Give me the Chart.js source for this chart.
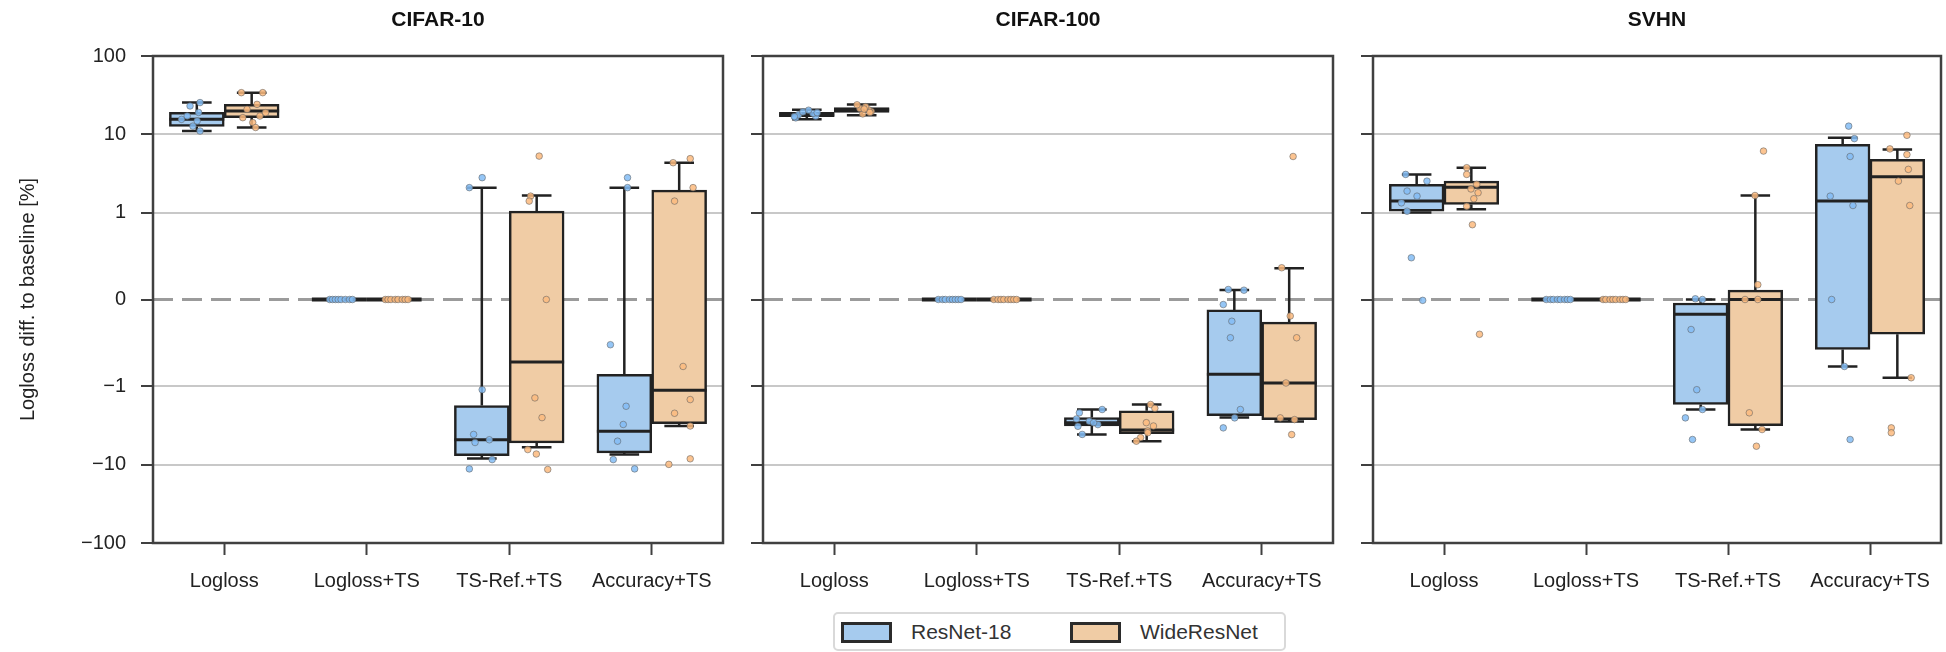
<!DOCTYPE html>
<html>
<head>
<meta charset="utf-8">
<script src="https://cdn.jsdelivr.net/npm/chart.js@4.4.1/dist/chart.umd.min.js"></script>
<style>
    html, body { margin: 0; padding: 0; background: #fff; }
    #page { position: relative; width: 1946px; height: 652px; overflow: hidden; font-family: 'Liberation Sans', Arial, sans-serif; }
    #page canvas { position: absolute; top: 0; }
    .legend-box { position: absolute; left: 833px; top: 612px; width: 453px; height: 39px; box-sizing: border-box; border: 2px solid #d9d9d9; border-radius: 5px; }
    .legend-patch { position: absolute; top: 622px; width: 51px; height: 21px; box-sizing: border-box; border: 3px solid #2b2b2b; }
    .legend-text { position: absolute; top: 619px; font-size: 21px; line-height: 25px; color: #333; }
</style>
</head>
<body>
<div id="page">
    <canvas id="panel0" width="733" height="600" style="left:0px"></canvas>
    <canvas id="panel1" width="605" height="600" style="left:738px"></canvas>
    <canvas id="panel2" width="598" height="600" style="left:1348px"></canvas>
    <div class="legend-box"></div>
</div>
<script>
// --- data ---
const CATEGORIES = ['Logloss', 'Logloss+TS', 'TS-Ref.+TS', 'Accuracy+TS'];
const DATASET_NAMES = ['CIFAR-10', 'CIFAR-100', 'SVHN'];
const MODELS = ['ResNet-18', 'WideResNet'];
const Y_TICKS = [-100, -10, -1, 0, 1, 10, 100];

// box rows per category: [whisker low, Q1, median, Q3, whisker high]
const C10_RN_BOX = [
    [11.0, 12.6, 15.5, 19.1, 25.4],
    [0, 0, 0, 0, 0],
    [-8.3, -7.65, -4.8, -1.75, 2.08],
    [-7.4, -7.06, -3.74, -0.86, 2.08]
];
const C10_WRN_BOX = [
    [12.2, 16.3, 19.8, 24.1, 34.0],
    [0, 0, 0, 0, 0],
    [-6.0, -5.26, -0.72, 1.04, 1.65],
    [-3.2, -2.98, -1.12, 1.93, 4.33]
];
const C100_RN_BOX = [
    [15.5, 16.8, 17.8, 19.0, 20.5],
    [0, 0, 0, 0, 0],
    [-4.1, -3.2, -2.9, -2.5, -1.97],
    [-2.5, -2.36, -0.86, -0.12, 0.11]
];
const C100_WRN_BOX = [
    [17.5, 19.0, 20.5, 22.0, 24.0],
    [0, 0, 0, 0, 0],
    [-5.0, -4.0, -3.6, -2.05, -1.7],
    [-2.8, -2.65, -0.96, -0.26, 0.36]
];
const SV_RN_BOX = [
    [1.0, 1.04, 1.4, 2.29, 3.07],
    [0, 0, 0, 0, 0],
    [-1.97, -1.7, -0.17, -0.04, 0.0],
    [-0.77, -0.575, 1.4, 7.43, 9.0]
];
const SV_WRN_BOX = [
    [1.1, 1.27, 2.1, 2.52, 3.74],
    [0, 0, 0, 0, 0],
    [-3.55, -3.16, 0.0, 0.107, 1.65],
    [-0.9, -0.4, 2.87, 4.78, 6.4]
];

// individual runs per category
const C10_RN_PTS = [
    [23.0, 25.4, 17.1, 14.8, 11.0, 15.5, 19.0, 12.7],
    [0, 0, 0, 0, 0, 0, 0, 0],
    [2.79, 2.08, -1.1, -4.1, -4.8, -5.2, -8.6, -11.3],
    [2.79, 2.08, -0.52, -1.79, -3.06, -5.0, -8.6, -11.3]
];
const C10_WRN_PTS = [
    [34.0, 34.0, 20.8, 24.1, 14.1, 18.9, 16.3, 17.1, 12.2],
    [0, 0, 0, 0, 0, 0, 0, 0],
    [5.26, 1.62, 1.4, 0, -1.4, -2.5, -6.4, -7.3, -11.5],
    [4.33, 4.88, 2.08, 1.4, -0.77, -1.47, -2.2, -3.2, -9.9, -8.4]
];
const C100_RN_PTS = [
    [16.2, 17.0, 17.8, 18.5, 19.3, 20.3, 16.8, 18.9],
    [0, 0, 0, 0, 0, 0, 0, 0],
    [-2.17, -1.97, -3.23, -2.78, -3.07, -4.1, -2.6, -2.9],
    [0.115, 0.107, -0.058, -0.25, -0.44, -1.97, -2.52, -3.38]
];
const C100_WRN_PTS = [
    [18.2, 19.5, 20.5, 21.4, 22.5, 23.8, 19.0, 21.0],
    [0, 0, 0, 0, 0, 0, 0, 0],
    [-1.7, -1.9, -2.9, -3.2, -3.7, -4.5, -5.0, -3.9],
    [5.2, 0.365, -0.19, -0.44, -0.96, -2.52, -2.65, -4.12]
];
const SV_RN_PTS = [
    [3.07, 2.52, 1.88, 1.62, 1.33, 1.04, 0.48, -0.01],
    [0, 0, 0, 0, 0, 0, 0, 0],
    [0.008, 0, -0.345, -1.1, -1.97, -2.52, -4.76],
    [12.7, 8.8, 5.2, 1.62, 1.23, 0, -0.77, -4.76]
];
const SV_WRN_PTS = [
    [3.74, 3.07, 2.29, 1.79, 1.2, 0.86, -0.4, 2.0, 1.5],
    [0, 0, 0, 0, 0, 0, 0, 0],
    [6.1, 1.65, 0.17, 0, 0, -2.17, -3.55, -5.8],
    [9.7, 6.5, 5.5, 3.56, 2.52, 1.23, -0.9, -3.38, -3.9]
];

// horizontal strip offsets of those runs (in category widths)
const C10_RN_JIT = [
    [-0.24, -0.17, -0.26, -0.19, -0.17, -0.30, -0.18, -0.22],
    [-0.26, -0.24, -0.22, -0.20, -0.18, -0.15, -0.12, -0.10],
    [-0.19, -0.28, -0.19, -0.25, -0.14, -0.24, -0.12, -0.28],
    [-0.17, -0.17, -0.29, -0.18, -0.20, -0.24, -0.27, -0.12]
];
const C10_WRN_JIT = [
    [0.12, 0.27, 0.16, 0.23, 0.20, 0.29, 0.13, 0.25, 0.22],
    [0.13, 0.15, 0.17, 0.20, 0.22, 0.25, 0.27, 0.29],
    [0.21, 0.15, 0.14, 0.26, 0.18, 0.23, 0.13, 0.19, 0.27],
    [0.15, 0.27, 0.29, 0.16, 0.22, 0.27, 0.16, 0.27, 0.12, 0.27]
];
const C100_RN_JIT = [
    [-0.27, -0.13, -0.25, -0.15, -0.22, -0.18, -0.28, -0.12],
    [-0.27, -0.24, -0.22, -0.19, -0.17, -0.15, -0.13, -0.11],
    [-0.28, -0.12, -0.29, -0.21, -0.15, -0.26, -0.30, -0.18],
    [-0.235, -0.125, -0.27, -0.21, -0.22, -0.15, -0.19, -0.27]
];
const C100_WRN_JIT = [
    [0.20, 0.26, 0.24, 0.18, 0.22, 0.16, 0.25, 0.21],
    [0.12, 0.15, 0.17, 0.19, 0.22, 0.24, 0.26, 0.28],
    [0.22, 0.25, 0.19, 0.24, 0.20, 0.15, 0.12, 0.20],
    [0.22, 0.14, 0.20, 0.245, 0.17, 0.13, 0.23, 0.21]
];
const SV_RN_JIT = [
    [-0.27, -0.12, -0.26, -0.19, -0.30, -0.26, -0.23, -0.15],
    [-0.28, -0.25, -0.23, -0.20, -0.18, -0.15, -0.13, -0.11],
    [-0.23, -0.18, -0.26, -0.22, -0.18, -0.30, -0.25],
    [-0.15, -0.11, -0.14, -0.28, -0.12, -0.27, -0.18, -0.14]
];
const SV_WRN_JIT = [
    [0.16, 0.16, 0.23, 0.24, 0.16, 0.20, 0.25, 0.19, 0.21],
    [0.12, 0.14, 0.17, 0.19, 0.21, 0.24, 0.26, 0.28],
    [0.25, 0.19, 0.21, 0.12, 0.21, 0.15, 0.24, 0.20],
    [0.26, 0.14, 0.26, 0.27, 0.20, 0.28, 0.29, 0.15, 0.15]
];

// --- styling ---
const FONT = "'Liberation Sans', Arial, sans-serif";
const TEXT = '#222';
const BOX_FILL = ['#a6cbee', '#f0cca5'];
const DOT_FILL = ['rgba(130, 188, 245, 0.85)', 'rgba(252, 186, 126, 0.85)'];
const DOT_EDGE = 'rgba(95, 95, 95, 0.55)';
const LINE = '#222';
const FRAME = '#404040';
const GRID = '#c8c8c8';
const ZERO = '#9b9b9b';

// boxes sit side by side, so the gap between the two box centres is one box width
const BOX_WIDTH = 0.385;            // in category widths
const BOX_SHIFT = [-BOX_WIDTH / 2, BOX_WIDTH / 2];
const CANVAS_H = 600;
const PLOT_TOP = 56;
const PLOT_BOTTOM = 543;
const AXIS_W = [153, 25, 25];
const PAD_RIGHT = [10, 10, 3];

Chart.defaults.font.family = FONT;
Chart.defaults.color = TEXT;

// symlog like matplotlib (linthresh 1, linscale 1)
const LIN_SCALE = 1 / (1 - 1 / 10);
function symlog(v) {
    const a = Math.abs(v);
    return Math.sign(v) * (a <= 1 ? a * LIN_SCALE : LIN_SCALE + Math.log10(a));
}
function symexp(u) {
    const a = Math.abs(u);
    return Math.sign(u) * (a <= LIN_SCALE ? a / LIN_SCALE : Math.pow(10, a - LIN_SCALE));
}

class SymlogScale extends Chart.LinearScale {
    static id = 'symlog';
    static defaults = {};
    buildTicks() {
        return Y_TICKS.map(value => ({ value }));
    }
    configure() {
        super.configure();
        this._symStart = symlog(this.min);
        this._symRange = symlog(this.max) - this._symStart;
    }
    getPixelForValue(value) {
        if (value === null || isNaN(value)) return NaN;
        return this.getPixelForDecimal((symlog(value) - this._symStart) / this._symRange);
    }
    getValueForPixel(pixel) {
        return symexp(this._symStart + this.getDecimalForPixel(pixel) * this._symRange);
    }
}
Chart.register(SymlogScale);

function tickLabel(v) {
    return v < 0 ? '\u2212' + Math.abs(v) : String(v);
}

// whiskers, medians, the dashed zero line and the frame
const boxPlot = {
    id: 'boxPlot',
    beforeDatasetsDraw(chart) {
        const { ctx, chartArea: a, scales: { y } } = chart;
        const y0 = y.getPixelForValue(0);
        ctx.save();
        ctx.strokeStyle = ZERO;
        ctx.lineWidth = 3;
        ctx.setLineDash([20, 9]);
        ctx.beginPath();
        ctx.moveTo(a.left, y0);
        ctx.lineTo(a.right, y0);
        ctx.stroke();
        ctx.restore();
    },
    afterDatasetDraw(chart, args) {
        const ds = chart.data.datasets[args.index];
        if (!ds.stats) return;
        const { ctx, scales: { y } } = chart;
        ctx.save();
        ctx.strokeStyle = LINE;
        args.meta.data.forEach((bar, i) => {
            const [lo, q1, med, q3, hi] = ds.stats[i];
            const cx = bar.x;
            const half = bar.width / 2;
            const cap = bar.width * 0.27;
            ctx.lineWidth = 2.5;
            ctx.beginPath();
            ctx.moveTo(cx, y.getPixelForValue(q3));
            ctx.lineTo(cx, y.getPixelForValue(hi));
            ctx.moveTo(cx - cap, y.getPixelForValue(hi));
            ctx.lineTo(cx + cap, y.getPixelForValue(hi));
            ctx.moveTo(cx, y.getPixelForValue(q1));
            ctx.lineTo(cx, y.getPixelForValue(lo));
            ctx.moveTo(cx - cap, y.getPixelForValue(lo));
            ctx.lineTo(cx + cap, y.getPixelForValue(lo));
            ctx.stroke();
            ctx.lineWidth = q1 === q3 ? 4 : 3;
            ctx.beginPath();
            ctx.moveTo(cx - half, y.getPixelForValue(med));
            ctx.lineTo(cx + half, y.getPixelForValue(med));
            ctx.stroke();
        });
        ctx.restore();
    },
    afterDraw(chart) {
        const { ctx, chartArea: a } = chart;
        ctx.save();
        ctx.strokeStyle = FRAME;
        ctx.lineWidth = 2.5;
        ctx.strokeRect(a.left, a.top, a.right - a.left, a.bottom - a.top);
        ctx.restore();
    }
};

const PANEL_BOXES = [[C10_RN_BOX, C10_WRN_BOX], [C100_RN_BOX, C100_WRN_BOX], [SV_RN_BOX, SV_WRN_BOX]];
const PANEL_PTS = [[C10_RN_PTS, C10_WRN_PTS], [C100_RN_PTS, C100_WRN_PTS], [SV_RN_PTS, SV_WRN_PTS]];
const PANEL_JIT = [[C10_RN_JIT, C10_WRN_JIT], [C100_RN_JIT, C100_WRN_JIT], [SV_RN_JIT, SV_WRN_JIT]];

DATASET_NAMES.forEach((name, p) => {
    const datasets = [];
    MODELS.forEach((model, m) => {
        datasets.push({
            type: 'bar',
            label: model,
            data: PANEL_BOXES[p][m].map((r, c) => ({ x: c + BOX_SHIFT[m], y: [r[1], r[3]] })),
            stats: PANEL_BOXES[p][m],
            backgroundColor: BOX_FILL[m],
            borderColor: LINE,
            borderWidth: 2.5,
            borderSkipped: false,
            grouped: false,
            categoryPercentage: 1,
            barPercentage: 1,
            xAxisID: 'xp',
            yAxisID: 'y',
            order: 2
        });
    });
    MODELS.forEach((model, m) => {
        const pts = [];
        PANEL_PTS[p][m].forEach((vals, c) => {
            vals.forEach((v, k) => pts.push({ x: c + PANEL_JIT[p][m][c][k], y: v }));
        });
        datasets.push({
            type: 'scatter',
            label: model + ' runs',
            data: pts,
            xAxisID: 'xp',
            yAxisID: 'y',
            pointRadius: 3.3,
            backgroundColor: DOT_FILL[m],
            borderColor: DOT_EDGE,
            borderWidth: 1,
            order: 1
        });
    });

    new Chart(document.getElementById('panel' + p), {
        type: 'bar',
        data: { labels: CATEGORIES, datasets },
        options: {
            responsive: false,
            animation: false,
            layout: { padding: { left: 0, top: 0, bottom: 0, right: PAD_RIGHT[p] } },
            plugins: { legend: { display: false }, tooltip: { enabled: false } },
            scales: {
                x: {
                    type: 'category',
                    labels: CATEGORIES,
                    offset: true,
                    grid: { display: true, offset: false, drawOnChartArea: false, tickLength: 12, tickWidth: 2, tickColor: FRAME },
                    border: { display: false },
                    ticks: { font: { size: 20 }, color: TEXT, padding: 14, maxRotation: 0, autoSkip: false },
                    afterFit: s => { s.height = CANVAS_H - PLOT_BOTTOM; }
                },
                xp: {
                    type: 'linear',
                    display: false,
                    offset: false,
                    grid: { offset: false },
                    min: -0.5,
                    max: 3.5,
                    afterBuildTicks: s => { s.ticks = [{ value: -0.5 }, { value: 3.5 }]; }
                },
                xt: {
                    type: 'linear',
                    position: 'top',
                    grid: { display: false },
                    border: { display: false },
                    ticks: { display: false },
                    title: { display: true, text: name, color: '#111', font: { size: 21, weight: 'bold' }, padding: { top: 8, bottom: 0 } },
                    afterFit: s => { s.height = PLOT_TOP; }
                },
                y: {
                    type: 'symlog',
                    position: 'left',
                    min: -100,
                    max: 100,
                    grid: {
                        color: c => (c.tick && c.tick.value === 0 ? 'rgba(0,0,0,0)' : GRID),
                        lineWidth: 2,
                        tickLength: 12,
                        tickWidth: 2,
                        tickColor: FRAME
                    },
                    border: { display: false },
                    ticks: {
                        font: { size: 20 },
                        color: TEXT,
                        padding: 15,
                        callback: v => (p === 0 ? tickLabel(v) : '')
                    },
                    title: {
                        display: p === 0,
                        text: 'Logloss diff. to baseline [%]',
                        color: TEXT,
                        font: { size: 20 },
                        padding: { top: 16, bottom: 0 }
                    },
                    afterFit: s => { s.width = AXIS_W[p]; }
                }
            }
        },
        plugins: [boxPlot]
    });
});

// legend below the middle panel
const LEGEND_X = [841, 1070];
const page = document.getElementById('page');
MODELS.forEach((model, m) => {
    const patch = document.createElement('div');
    patch.className = 'legend-patch';
    patch.style.left = LEGEND_X[m] + 'px';
    patch.style.background = BOX_FILL[m];
    page.appendChild(patch);
    const label = document.createElement('div');
    label.className = 'legend-text';
    label.style.left = (LEGEND_X[m] + 70) + 'px';
    label.textContent = model;
    page.appendChild(label);
});
</script>
</body>
</html>
